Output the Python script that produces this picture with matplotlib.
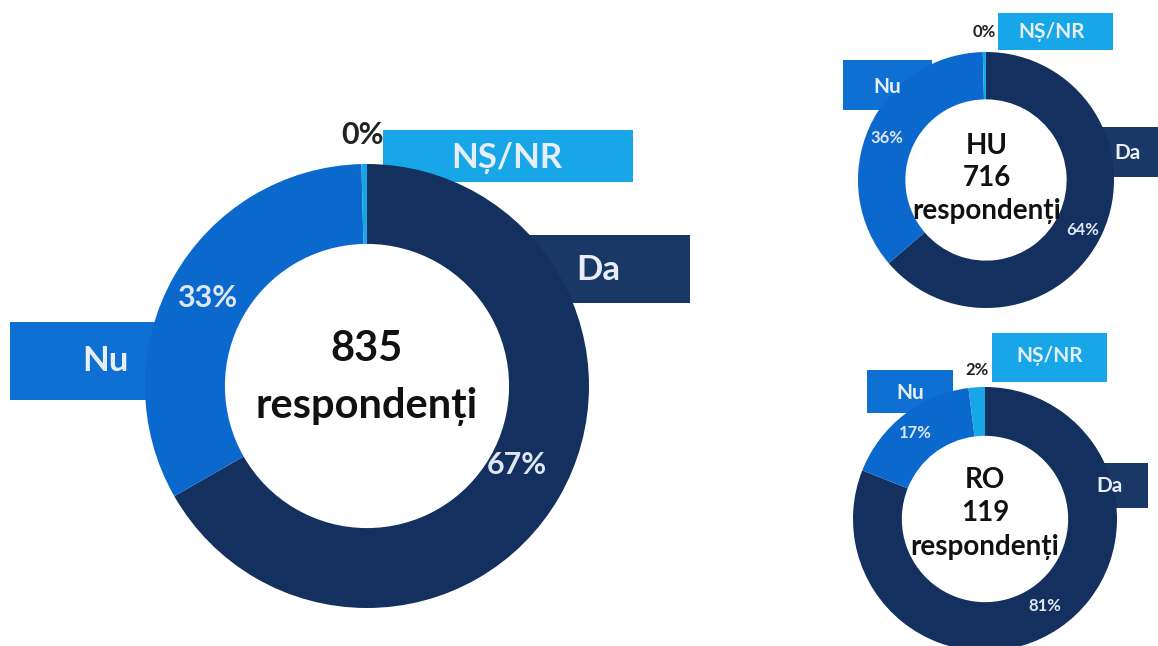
import matplotlib.pyplot as plt
from matplotlib import patches

plt.rcParams['font.family'] = ['Lato', 'DejaVu Sans']
plt.rcParams['font.weight'] = 'bold'

# data (Da, Nu, NS/NR), clockwise from 12 o'clock
categories = ['Da', 'Nu', 'NȘ/NR']
total_pct = [67, 33, 0.4]
hu_pct = [64, 36, 0.4]
ro_pct = [81, 17, 2]
respondents = [835, 716, 119]
regions = ['', 'HU', 'RO']

colors = ['#13305e', '#0b69cd', '#17a7e8']
box_colors = ['#1a3866', '#0f70d3', '#17a7e8']

W, H = 1158, 646

# layout in pixels (x, y from top-left)
charts = [
    dict(center=(367, 386), radius=222, width=0.36,
         boxes=[(522, 235, 690, 303), (10, 322, 200, 400), (383, 130, 633, 182)],
         box_text=[(598, 270), (105, 361), (507, 158)], box_fs=25,
         pct_pos=[(517, 465), (207, 298), (362, 135)], pct_fs=22,
         center_pos=[(367, 349), (367, 406)], center_fs=30),
    dict(center=(986, 180), radius=128, width=0.37,
         boxes=[(1090, 127, 1158, 177), (843, 60, 932, 110), (998, 13, 1113, 50)],
         box_text=[(1128, 153), (887, 87), (1052, 32)], box_fs=15,
         pct_pos=[(1083, 230), (887, 138), (984, 32)], pct_fs=12,
         center_pos=[(987, 146), (987, 178), (987, 211)], center_fs=20),
    dict(center=(985, 519), radius=132, width=0.37,
         boxes=[(1070, 463, 1148, 508), (867, 370, 953, 413), (992, 333, 1107, 382)],
         box_text=[(1110, 486), (910, 393), (1050, 356)], box_fs=15,
         pct_pos=[(1045, 606), (915, 433), (977, 370)], pct_fs=12,
         center_pos=[(985, 480), (985, 513), (985, 547)], center_fs=20),
]
series = [total_pct, hu_pct, ro_pct]

fig = plt.figure(figsize=(W / 100, H / 100), dpi=100)
ax = fig.add_axes([0, 0, 1, 1])

for ch, vals, n, reg in zip(charts, series, respondents, regions):
    # label boxes sit behind the ring
    for (x0, y0, x1, y1), c in zip(ch['boxes'], box_colors):
        ax.add_patch(patches.Rectangle((x0, y0), x1 - x0, y1 - y0, color=c, zorder=1, lw=0))
    # y axis is inverted below, so counterclock=True / startangle=-90 reads clockwise from the top
    ax.pie(vals, colors=colors, center=ch['center'], radius=ch['radius'],
           startangle=-90, counterclock=True,
           wedgeprops=dict(width=ch['radius'] * ch['width'], linewidth=0, zorder=2))
    for (tx, ty), lab in zip(ch['box_text'], categories):
        ax.text(tx, ty, lab, color='#e8eef8', fontsize=ch['box_fs'], ha='center', va='center', zorder=5)
    for i, ((px, py), v) in enumerate(zip(ch['pct_pos'], vals)):
        col = '#222222' if i == 2 else '#dde6f3'
        ax.text(px, py, '%d%%' % round(v), color=col, fontsize=ch['pct_fs'], ha='center', va='center', zorder=5)
    lines = ([reg] if reg else []) + [str(n), 'respondenți']
    for (cx, cy), t in zip(ch['center_pos'], lines):
        ax.text(cx, cy, t, color='#111111', fontsize=ch['center_fs'], ha='center', va='center', zorder=5)

ax.set_xlim(0, W)
ax.set_ylim(H, 0)
ax.set_aspect('equal')
ax.axis('off')

fig.savefig('out.png', dpi=100, facecolor='white')
